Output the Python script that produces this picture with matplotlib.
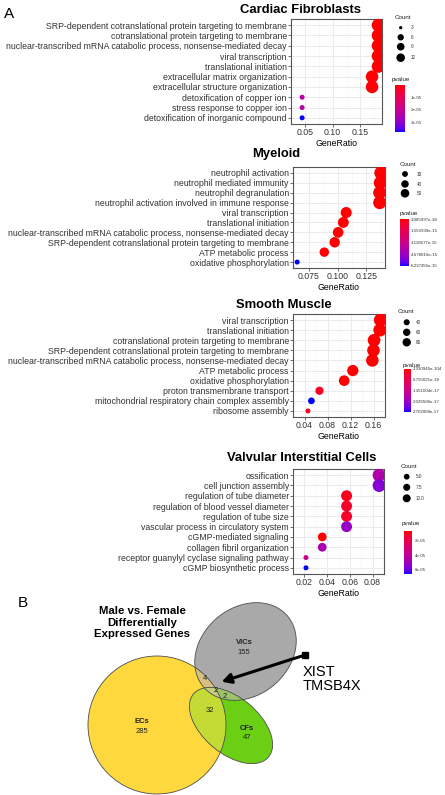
import numpy as np
import matplotlib
matplotlib.use('Agg')
import matplotlib.pyplot as plt
from matplotlib.patches import Ellipse, Polygon
from matplotlib.colors import ListedColormap, Normalize
from matplotlib.cm import ScalarMappable

plt.rcParams['font.family'] = ['Liberation Sans', 'DejaVu Sans']

W, H = 445, 795  # figure size in pixels

# ---------------- Panel A data ----------------
cf_terms = ['SRP-dependent cotranslational protein targeting to membrane',
            'cotranslational protein targeting to membrane',
            'nuclear-transcribed mRNA catabolic process, nonsense-mediated decay',
            'viral transcription',
            'translational initiation',
            'extracellular matrix organization',
            'extracellular structure organization',
            'detoxification of copper ion',
            'stress response to copper ion',
            'detoxification of inorganic compound']
cf_ratio = [0.182, 0.182, 0.182, 0.182, 0.182, 0.171, 0.171, 0.045, 0.045, 0.045]
cf_count = [12, 12, 12, 12, 12, 11, 11, 3, 3, 3]
cf_pval = [2e-10, 3e-10, 5e-10, 8e-10, 1.2e-9, 4e-7, 6e-7, 2.3e-5, 2.3e-5, 3.74e-5]
cf_xticks = [0.05, 0.10, 0.15]
cf_xlabels = ['0.05', '0.10', '0.15']
cf_size_breaks = [3, 6, 9, 12]
cf_size_labels = ['3', '6', '9', '12']
cf_p_breaks = [1e-5, 2e-5, 3e-5]
cf_p_labels = ['1e-05', '2e-05', '3e-05']

my_terms = ['neutrophil activation',
            'neutrophil mediated immunity',
            'neutrophil degranulation',
            'neutrophil activation involved in immune response',
            'viral transcription',
            'translational initiation',
            'nuclear-transcribed mRNA catabolic process, nonsense-mediated decay',
            'SRP-dependent cotranslational protein targeting to membrane',
            'ATP metabolic process',
            'oxidative phosphorylation']
my_ratio = [0.1375, 0.137, 0.1365, 0.1365, 0.1075, 0.105, 0.1005, 0.0975, 0.0885, 0.065]
my_count = [50, 50, 50, 50, 39, 38, 37, 36, 32, 24]
my_pval = [3.085997e-38, 5.1e-38, 8.4e-38, 1.3e-37, 2.0e-30, 4.6e-29, 1.1e-26, 5.3e-26, 4.2e-20, 6.237355e-15]
my_xticks = [0.075, 0.100, 0.125]
my_xlabels = ['0.075', '0.100', '0.125']
my_size_breaks = [30, 40, 50]
my_size_labels = ['30', '40', '50']
my_p_breaks = [3.085997e-38, 1.559339e-15, 3.118677e-15, 4.678016e-15, 6.237355e-15]
my_p_labels = ['3.085997e-38', '1.559339e-15', '3.118677e-15', '4.678016e-15', '6.237355e-15']

sm_terms = ['viral transcription',
            'translational initiation',
            'cotranslational protein targeting to membrane',
            'SRP-dependent cotranslational protein targeting to membrane',
            'nuclear-transcribed mRNA catabolic process, nonsense-mediated decay',
            'ATP metabolic process',
            'oxidative phosphorylation',
            'proton transmembrane transport',
            'mitochondrial respiratory chain complex assembly',
            'ribosome assembly']
sm_ratio = [0.172, 0.171, 0.161, 0.160, 0.158, 0.124, 0.109, 0.066, 0.052, 0.046]
sm_count = [85, 84, 80, 79, 78, 61, 54, 33, 26, 23]
sm_pval = [2.330945e-104, 1.2e-100, 3.5e-95, 6.1e-94, 2.4e-92, 8.8e-60, 3.1e-45, 2.4e-18, 2.702008e-17, 1.9e-18]
sm_xticks = [0.04, 0.08, 0.12, 0.16]
sm_xlabels = ['0.04', '0.08', '0.12', '0.16']
sm_size_breaks = [40, 60, 80]
sm_size_labels = ['40', '60', '80']
sm_p_breaks = [2.330945e-104, 6.755021e-18, 1.351004e-17, 2.026506e-17, 2.702008e-17]
sm_p_labels = ['2.330945e-104', '6.755021e-18', '1.351004e-17', '2.026506e-17', '2.702008e-17']

vi_terms = ['ossification',
            'cell junction assembly',
            'regulation of tube diameter',
            'regulation of blood vessel diameter',
            'regulation of tube size',
            'vascular process in circulatory system',
            'cGMP-mediated signaling',
            'collagen fibril organization',
            'receptor guanylyl cyclase signaling pathway',
            'cGMP biosynthetic process']
vi_ratio = [0.0857, 0.0857, 0.0571, 0.0571, 0.0571, 0.0571, 0.0357, 0.0357, 0.0214, 0.0214]
vi_count = [12, 12, 8, 8, 8, 8, 5, 5, 3, 3]
vi_pval = [4.5e-5, 5.6e-5, 9.0e-6, 1.2e-5, 1.2e-5, 5.2e-5, 5.5e-6, 4.7e-5, 3.8e-5, 6.66e-5]
vi_xticks = [0.02, 0.04, 0.06, 0.08]
vi_xlabels = ['0.02', '0.04', '0.06', '0.08']
vi_size_breaks = [5.0, 7.5, 10.0]
vi_size_labels = ['5.0', '7.5', '10.0']
vi_p_breaks = [2e-5, 4e-5, 6e-5]
vi_p_labels = ['2e-05', '4e-05', '6e-05']

# ---------------- Panel B data (Venn) ----------------
venn_names = ['ECs', 'VICs', 'CFs']
venn_only = [285, 155, 47]
venn_ec_vic = 4
venn_ec_cf = 32
venn_all = 2
venn_vic_cf = 2
venn_genes = ['XIST', 'TMSB4X']


# red -> blue gradient interpolated in Lab, like ggplot
def srgb_to_lab(c):
    c = np.asarray(c, float)
    lin = np.where(c <= 0.04045, c / 12.92, ((c + 0.055) / 1.055) ** 2.4)
    M = np.array([[0.4124, 0.3576, 0.1805], [0.2126, 0.7152, 0.0722], [0.0193, 0.1192, 0.9505]])
    xyz = M @ lin / np.array([0.95047, 1.0, 1.08883])
    f = np.where(xyz > 0.008856, np.cbrt(xyz), 7.787 * xyz + 16 / 116)
    return np.array([116 * f[1] - 16, 500 * (f[0] - f[1]), 200 * (f[1] - f[2])])


def lab_to_srgb(lab):
    L, a, b = lab
    fy = (L + 16) / 116
    f = np.array([fy + a / 500, fy, fy - b / 200])
    xyz = np.where(f ** 3 > 0.008856, f ** 3, (f - 16 / 116) / 7.787) * np.array([0.95047, 1.0, 1.08883])
    Minv = np.array([[3.2406, -1.5372, -0.4986], [-0.9689, 1.8758, 0.0415], [0.0557, -0.2040, 1.0570]])
    lin = np.clip(Minv @ xyz, 0, 1)
    return np.clip(np.where(lin <= 0.0031308, 12.92 * lin, 1.055 * lin ** (1 / 2.4) - 0.055), 0, 1)


lab_r, lab_b = srgb_to_lab([1, 0, 0]), srgb_to_lab([0, 0, 1])
pcmap = ListedColormap([lab_to_srgb(lab_r * (1 - t) + lab_b * t) for t in np.linspace(0, 1, 256)])

fig = plt.figure(figsize=(W / 100, H / 100), dpi=100)
ov = fig.add_axes([0, 0, 1, 1])
ov.set_xlim(0, W)
ov.set_ylim(H, 0)
ov.axis('off')


def px_rect(l, t, r, b):
    return [l / W, 1 - b / H, (r - l) / W, (b - t) / H]


def dot_diam(c, ref):
    c = np.asarray(c, float)
    lo, hi = min(ref), max(ref)
    return 5 + 8 * np.sqrt(np.clip((c - lo) / (hi - lo), 0, 1))


def dot_panel(title, title_xy, terms, ratio, count, pval, xticks, xlabels, box):
    ax = fig.add_axes(px_rect(*box))
    n = len(terms)
    ypos = np.arange(n)
    lo, hi = min(ratio), max(ratio)
    ax.set_xlim(lo - 0.05 * (hi - lo), hi + 0.05 * (hi - lo))
    ax.set_ylim(n - 0.4, -0.6)
    norm = Normalize(min(pval), max(pval))
    ax.scatter(ratio, ypos, s=(0.72 * dot_diam(count, count)) ** 2, c=pval, cmap=pcmap,
               norm=norm, linewidths=0, zorder=3)
    ax.set_yticks(ypos)
    ax.set_yticklabels(terms)
    ax.set_xticks(xticks)
    ax.set_xticklabels(xlabels)
    step = xticks[1] - xticks[0]
    ax.set_xticks([xticks[0] - step / 2] + [x + step / 2 for x in xticks], minor=True)
    ax.set_axisbelow(True)
    ax.grid(which='major', color='#EBEBEB', lw=0.7)
    ax.grid(which='minor', axis='x', color='#F4F4F4', lw=0.45)
    ax.tick_params(which='major', length=2, width=0.5, color='#333333', pad=1,
                   labelsize=6.3, labelcolor='#333333')
    ax.tick_params(which='minor', length=0)
    for sp in ax.spines.values():
        sp.set_color('#555555')
        sp.set_linewidth(0.8)
    ax.set_xlabel('GeneRatio', fontsize=6.3, labelpad=1)
    ov.text(title_xy[0], title_xy[1], title, fontsize=9.4, fontweight='bold',
            ha='center', va='baseline')
    return norm


def legends(count, norm, size_breaks, size_labels, p_breaks, p_labels,
            count_xy, dot_x, dot_y, lab_x, p_xy, bar, bar_lab_x):
    ov.text(count_xy[0], count_xy[1], 'Count', fontsize=4.5, va='center', color='#222222')
    d = 0.66 * dot_diam(size_breaks, count)
    ov.scatter([dot_x] * len(size_breaks), dot_y, s=(0.72 * d) ** 2, c='black', linewidths=0)
    for yy, lab in zip(dot_y, size_labels):
        ov.text(lab_x, yy, lab, fontsize=3.3, va='center', color='#333333')
    ov.text(p_xy[0], p_xy[1], 'pvalue', fontsize=4.5, va='center', color='#222222')
    cax = fig.add_axes(px_rect(*bar))
    cb = fig.colorbar(ScalarMappable(norm=norm, cmap=pcmap), cax=cax)
    cb.outline.set_visible(False)
    cb.set_ticks(p_breaks)
    cb.set_ticklabels(p_labels)
    cax.invert_yaxis()
    cax.tick_params(length=0, labelsize=3.2, pad=(bar_lab_x - bar[2]) * 0.72, labelcolor='#333333')


norm = dot_panel('Cardiac Fibroblasts', (301, 13.3), cf_terms, cf_ratio, cf_count, cf_pval,
                 cf_xticks, cf_xlabels, (291, 19, 382, 124))
legends(cf_count, norm, cf_size_breaks, cf_size_labels, cf_p_breaks, cf_p_labels,
        (395, 17.7), 400.7, [27.7, 37.3, 46.7, 57.7], 411, (392, 79), (395, 85, 405, 131.7), 411)

norm = dot_panel('Myeloid', (276.3, 157.5), my_terms, my_ratio, my_count, my_pval,
                 my_xticks, my_xlabels, (293, 167, 385, 268))
legends(my_count, norm, my_size_breaks, my_size_labels, my_p_breaks, my_p_labels,
        (400, 164), 405, [174, 184, 193.3], 416.7, (400, 213.3), (400, 219.3, 409, 266), 411)

norm = dot_panel('Smooth Muscle', (283.7, 308.3), sm_terms, sm_ratio, sm_count, sm_pval,
                 sm_xticks, sm_xlabels, (293, 314, 385, 417))
legends(sm_count, norm, sm_size_breaks, sm_size_labels, sm_p_breaks, sm_p_labels,
        (398, 311.7), 406.7, [322.3, 332.3, 342.3], 415.7, (403, 365), (404, 369, 411, 411.7), 413)

norm = dot_panel('Valvular Interstitial Cells', (301.2, 460.7), vi_terms, vi_ratio, vi_count, vi_pval,
                 vi_xticks, vi_xlabels, (293, 469, 384, 574))
legends(vi_count, norm, vi_size_breaks, vi_size_labels, vi_p_breaks, vi_p_labels,
        (401, 466), 406.7, [476.7, 487.3, 498.3], 415.7, (402, 524), (404, 530.7, 411.7, 574), 415)

ov.text(4, 18, 'A', fontsize=11, va='baseline')
ov.text(18, 607, 'B', fontsize=11, va='baseline')

# ---------------- Panel B: Venn diagram ----------------
ec_geom = (157, 725, 138, 138, 0)
vic_geom = (245.5, 651.5, 110, 88, -40)
cf_geom = (231, 725.5, 98, 56, 40)


def ell(g, **kw):
    cx, cy, w, h, a = g
    return Ellipse((cx, cy), w, h, angle=a, **kw)


def ell_pts(g, n=720):
    cx, cy, w, h, a = g
    t = np.linspace(0, 2 * np.pi, n, endpoint=False)
    a = np.deg2rad(a)
    x, y = w / 2 * np.cos(t), h / 2 * np.sin(t)
    return np.c_[cx + x * np.cos(a) - y * np.sin(a), cy + x * np.sin(a) + y * np.cos(a)]


def inside(p, g):
    cx, cy, w, h, a = g
    a = np.deg2rad(a)
    dx, dy = p[:, 0] - cx, p[:, 1] - cy
    u = dx * np.cos(a) + dy * np.sin(a)
    v = -dx * np.sin(a) + dy * np.cos(a)
    return (u / (w / 2)) ** 2 + (v / (h / 2)) ** 2 <= 1


for g, col in [(ec_geom, '#FFD83E'), (vic_geom, '#A9A9A9'), (cf_geom, '#6BCF14')]:
    ov.add_patch(ell(g, fc=col, ec='none'))
for g, clip, col in [(vic_geom, ec_geom, '#D8C17E'), (cf_geom, ec_geom, '#C5DB35'),
                     (cf_geom, vic_geom, '#9DC46C')]:
    p = ell(g, fc=col, ec='none')
    ov.add_patch(p)
    p.set_clip_path(ell(clip, transform=ov.transData))

pts = []
for g, o1, o2 in [(ec_geom, vic_geom, cf_geom), (vic_geom, ec_geom, cf_geom), (cf_geom, ec_geom, vic_geom)]:
    p = ell_pts(g)
    pts.append(p[inside(p, o1) & inside(p, o2)])
pts = np.vstack(pts)
if len(pts) > 2:
    c = pts.mean(0)
    pts = pts[np.argsort(np.arctan2(pts[:, 1] - c[1], pts[:, 0] - c[0]))]
    ov.add_patch(Polygon(pts, fc='#C6CB7E', ec='none'))

for g in [ec_geom, vic_geom, cf_geom]:
    ov.add_patch(ell(g, fill=False, ec='#4D4D4D', lw=0.6))

tc = '#222222'
name_xy = [(142, 721.7), (244, 642.7), (247, 728)]
for (x, y), name, val in zip(name_xy, venn_names, venn_only):
    ov.text(x, y, name, fontsize=5.5, fontweight='bold', ha='center', va='center', color=tc)
    ov.text(x, y + 9.5, str(val), fontsize=5.5, ha='center', va='center', color=tc)
ov.text(210, 711, str(venn_ec_cf), fontsize=5.5, ha='center', va='center', color=tc)
ov.text(205, 679, str(venn_ec_vic), fontsize=5.5, ha='center', va='center', color=tc)
ov.text(215.7, 690, str(venn_all), fontsize=5.5, ha='center', va='center', color=tc)
ov.text(225, 696.7, str(venn_vic_cf), fontsize=5.5, ha='center', va='center', color=tc)

ov.text(142, 622.7, 'Male vs. Female\nDifferentially\nExpressed Genes', fontsize=8.2,
        fontweight='bold', ha='center', va='center', linespacing=1.2)

ov.annotate('', xy=(221.7, 681.7), xytext=(305, 655),
            arrowprops=dict(arrowstyle='-|>,head_length=0.55,head_width=0.3', lw=2.2,
                            color='black', shrinkA=0, shrinkB=0))
ov.plot(305, 655, marker='s', ms=4, color='black')
ov.text(303, 671.7, venn_genes[0], fontsize=10.5, va='center')
ov.text(303, 685.5, venn_genes[1], fontsize=10.5, va='center')

fig.savefig('out.png', dpi=100)
